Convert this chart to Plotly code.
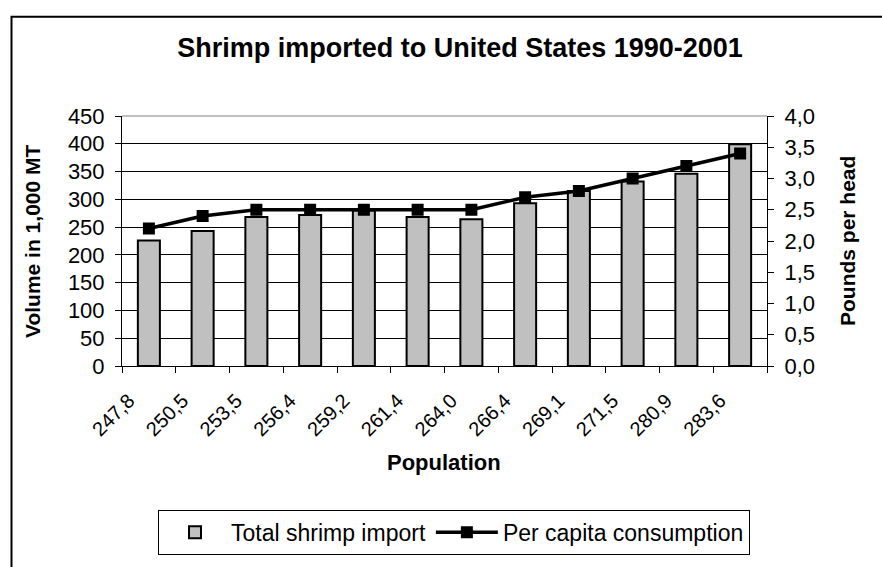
import plotly.graph_objects as go

# Data
population = ["247,8", "250,5", "253,5", "256,4", "259,2", "261,4",
              "264,0", "266,4", "269,1", "271,5", "280,9", "283,6"]
total_import = [226, 243, 268, 272, 280, 268, 264, 293, 315, 332, 346, 399]
per_capita = [2.2, 2.4, 2.5, 2.5, 2.5, 2.5, 2.5, 2.7, 2.8, 3.0, 3.2, 3.4]

FONT = "Liberation Sans, Arial, sans-serif"

fig = go.Figure()
fig.add_trace(go.Bar(
    x=population, y=total_import, name="Total shrimp import",
    marker=dict(color="#C0C0C0", line=dict(color="black", width=2)),
    yaxis="y",
))
fig.add_trace(go.Scatter(
    x=population, y=per_capita, name="Per capita consumption",
    mode="lines+markers",
    line=dict(color="black", width=3.5),
    marker=dict(symbol="square", size=12, color="black"),
    yaxis="y2",
))

L, R, T, B = 122, 115, 116, 194
W, H = 882, 567
pw = W - L - R
ph = H - T - B

def px_x(px):
    return (px - L) / pw

def px_y(py):
    return (H - B - py) / ph

fig.update_layout(
    width=W, height=H,
    margin=dict(l=L, r=R, t=T, b=B, pad=0),
    paper_bgcolor="white", plot_bgcolor="white",
    font=dict(family=FONT, color="black", size=20),
    separators=", ",
    bargap=0.59,
    showlegend=True,
    title=dict(
        text="<b>Shrimp imported to United States 1990-2001</b>",
        x=460 / W, xanchor="center", xref="container",
        y=1 - 48 / H, yanchor="middle", yref="container",
        font=dict(family=FONT, size=27, color="black"),
    ),
    xaxis=dict(
        type="category", range=[-0.5, 11.5],
        tickson="boundaries", ticks="outside", ticklen=6, tickcolor="black",
        showline=True, linecolor="black", linewidth=1,
        tickangle=-45, tickfont=dict(size=20),
        ticklabelshift=-20, ticklabelstandoff=14,
        showgrid=False, zeroline=False,
    ),
    yaxis=dict(
        range=[0, 450], tick0=0, dtick=50,
        showgrid=True, gridcolor="black", gridwidth=1,
        showline=True, linecolor="black", linewidth=1,
        ticks="outside", ticklen=6, tickcolor="black",
        tickfont=dict(size=22), ticklabelstandoff=6,
        zeroline=False,
    ),
    yaxis2=dict(
        overlaying="y", side="right",
        range=[0, 4], tick0=0, dtick=0.5, tickformat=".1f",
        showgrid=False,
        showline=True, linecolor="black", linewidth=1,
        ticks="outside", ticklen=6, tickcolor="black",
        tickfont=dict(size=22), ticklabelstandoff=6,
        zeroline=False,
    ),
    legend=dict(
        orientation="h",
        x=px_x(454), xanchor="center",
        y=px_y(544), yanchor="middle",
        bordercolor="black", borderwidth=1,
        font=dict(size=23),
        itemwidth=62,
        bgcolor="white",
    ),
    shapes=[
        dict(type="rect", xref="paper", yref="paper",
             x0=px_x(11.5), x1=px_x(1000), y0=px_y(700), y1=px_y(14),
             line=dict(color="black", width=2), layer="below"),
        dict(type="line", xref="paper", yref="paper",
             x0=0, x1=1, y0=1, y1=1,
             line=dict(color="#808080", width=1), layer="above"),
    ],
    annotations=[
        dict(text="<b>Volume in 1,000 MT</b>", textangle=-90,
             xref="paper", yref="paper", x=px_x(32), y=0.5,
             xanchor="center", yanchor="middle", showarrow=False,
             font=dict(size=21)),
        dict(text="<b>Pounds per head</b>", textangle=-90,
             xref="paper", yref="paper", x=px_x(847), y=0.5,
             xanchor="center", yanchor="middle", showarrow=False,
             font=dict(size=21)),
        dict(text="<b>Population</b>",
             xref="paper", yref="paper", x=px_x(444), y=px_y(472),
             xanchor="center", yanchor="middle", showarrow=False,
             font=dict(size=22)),
    ],
)

fig.write_html("out.html")
